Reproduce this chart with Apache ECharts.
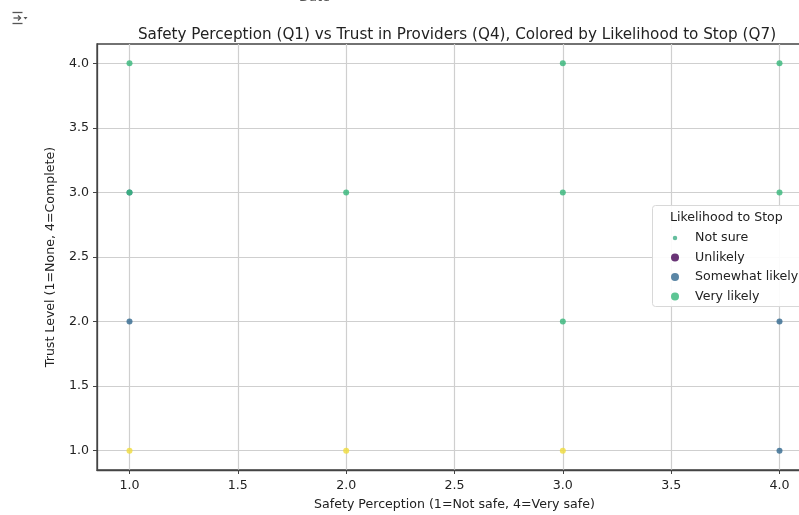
<!DOCTYPE html>
<html>
<head>
<meta charset="utf-8">
<script src="https://cdn.jsdelivr.net/npm/echarts@6/dist/echarts.min.js"></script>
<style>
  html, body { margin: 0; padding: 0; background: #fff; }
  #chart { width: 799px; height: 515px; }
</style>
</head>
<body>
<div id="chart"></div>
<script>
// Tick positions for both axes
const xTicks = [1.0, 1.5, 2.0, 2.5, 3.0, 3.5, 4.0];
const yTicks = [1.0, 1.5, 2.0, 2.5, 3.0, 3.5, 4.0];

// Responses: [safety (Q1), trust (Q4)] grouped by likelihood to stop (Q7)
const notSure = [];
const unlikely = [];
const somewhatLikely = [[1, 3], [1, 2], [4, 2], [4, 1]];
const veryLikely = [[1, 4], [1, 3], [2, 3], [3, 4], [3, 3], [3, 2], [4, 4], [4, 3]];
const likely = [[1, 1], [2, 1], [3, 1]];

const legendNames = ['Not sure', 'Unlikely', 'Somewhat likely', 'Very likely'];
const FONT = 'DejaVu Sans';
const LABEL_SIZE = 12.6;
// small dot centred in a 16x16 box, so the legend draws it at reduced size
const SMALL_DOT = 'path://M0,0M16,16M3.5,8a4.5,4.5 0 1,0 9,0a4.5,4.5 0 1,0 -9,0z';

const chart = echarts.init(document.getElementById('chart'), null, { renderer: 'canvas' });

function scatter(name, data, color, size) {
  return {
    name: name,
    type: 'scatter',
    data: data,
    symbol: 'circle',
    symbolSize: size,
    itemStyle: { color: color, opacity: 0.8 },
    emphasis: { disabled: true },
    z: 3
  };
}

const option = {
  animation: false,
  backgroundColor: '#fff',
  title: {
    text: 'Safety Perception (Q1) vs Trust in Providers (Q4), Colored by Likelihood to Stop (Q7)',
    left: 452, top: 23, textAlign: 'center',
    textStyle: { fontFamily: FONT, fontSize: 15.2, fontWeight: 'normal', color: '#222' }
  },
  grid: {
    left: 97, top: 44, width: 715, height: 426,
    outerBoundsMode: 'none',
    show: true, borderColor: '#444', borderWidth: 1.3, backgroundColor: 'transparent'
  },
  xAxis: {
    type: 'value', min: 0.85, max: 4.15,
    name: 'Safety Perception (1=Not safe, 4=Very safe)',
    nameLocation: 'middle', nameGap: 28,
    nameTextStyle: { fontFamily: FONT, fontSize: LABEL_SIZE, color: '#222' },
    axisLine: { show: true, lineStyle: { color: '#444', width: 1.3 } },
    axisTick: { show: true, customValues: xTicks, length: 4, lineStyle: { color: '#444' } },
    axisLabel: { customValues: xTicks, formatter: v => v.toFixed(1), fontFamily: FONT, fontSize: LABEL_SIZE, color: '#222', margin: 9 },
    splitLine: { show: true, customValues: xTicks, lineStyle: { color: '#cfcfcf', width: 1.2 } }
  },
  yAxis: {
    type: 'value', min: 0.85, max: 4.15,
    name: 'Trust Level (1=None, 4=Complete)',
    nameLocation: 'middle', nameGap: 40,
    nameTextStyle: { fontFamily: FONT, fontSize: LABEL_SIZE, color: '#222' },
    axisLine: { show: true, lineStyle: { color: '#444', width: 1.3 } },
    axisTick: { show: true, customValues: yTicks, length: 4, lineStyle: { color: '#444' } },
    axisLabel: { customValues: yTicks, formatter: v => v.toFixed(1), fontFamily: FONT, fontSize: LABEL_SIZE, color: '#222', margin: 8 },
    splitLine: { show: true, customValues: yTicks, lineStyle: { color: '#cfcfcf', width: 1.2 } }
  },
  legend: {
    data: legendNames.map(n => n === 'Not sure' ? { name: n, icon: SMALL_DOT } : { name: n, icon: 'circle' }),
    orient: 'vertical',
    left: 666, top: 226,
    z: 10,
    itemWidth: 8, itemHeight: 8, itemGap: 5.5,
    textStyle: { fontFamily: FONT, fontSize: LABEL_SIZE, lineHeight: 14, color: '#222', padding: [0, 0, 0, 11] },
    selectedMode: false
  },
  graphic: [
    // legend frame and title
    { type: 'rect', shape: { x: 652.5, y: 205.5, width: 160, height: 101, r: 3 },
      style: { fill: 'rgba(255,255,255,0.9)', stroke: '#d8d8d8', lineWidth: 1 }, z: 5 },
    { type: 'text', left: 670, top: 211,
      style: { text: 'Likelihood to Stop', fontFamily: FONT, fontSize: LABEL_SIZE, fill: '#222' }, z: 6 },
    // clipped caption above the title
    { type: 'text', left: 299, top: -9,
      style: { text: 'Date', fontFamily: FONT, fontSize: 13, fill: '#555' } },
    // output toolbar icon
    { type: 'group', left: 10, top: 10, children: [
      { type: 'line', shape: { x1: 0, y1: 0.5, x2: 10, y2: 0.5 }, style: { stroke: '#555', lineWidth: 1.3 } },
      { type: 'line', shape: { x1: 0, y1: 11.5, x2: 10, y2: 11.5 }, style: { stroke: '#555', lineWidth: 1.3 } },
      { type: 'line', shape: { x1: 1, y1: 6, x2: 8, y2: 6 }, style: { stroke: '#555', lineWidth: 1.3 } },
      { type: 'polyline', shape: { points: [[5.5, 3.5], [8, 6], [5.5, 8.5]] }, style: { stroke: '#555', fill: null, lineWidth: 1.3 } },
      { type: 'polygon', shape: { points: [[11, 5], [15, 5], [13, 7.5]] }, style: { fill: '#555' } }
    ] }
  ],
  series: [
    scatter('Not sure', notSure, '#3fae86', 5),
    scatter('Unlikely', unlikely, '#440154', 6),
    scatter('Somewhat likely', somewhatLikely, '#31688e', 6),
    scatter('Very likely', veryLikely, '#35b779', 6),
    scatter('Likely', likely, '#f0dc3a', 6)
  ]
};

chart.setOption(option);
</script>
</body>
</html>
